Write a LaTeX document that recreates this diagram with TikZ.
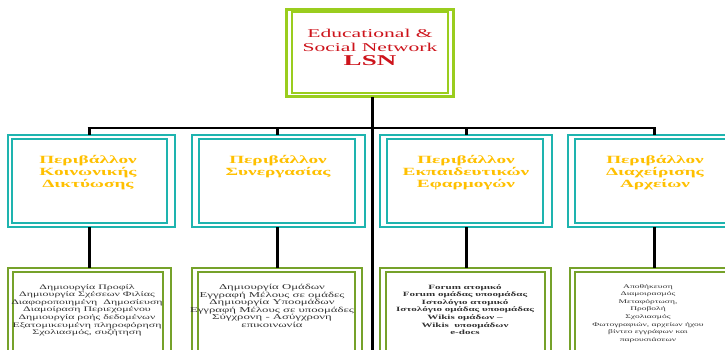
\documentclass[tikz,border=0pt]{standalone}
\usepackage{fontspec}
\setmainfont{Liberation Serif}
\newfontfamily\topfont[FakeStretch=1.8]{Liberation Serif}
\newfontfamily\midfont[FakeStretch=1.75]{Liberation Serif}
\newfontfamily\botfont[FakeStretch=1.7]{Liberation Serif}
\definecolor{limec}{RGB}{154,205,30}
\definecolor{tealc}{RGB}{30,180,175}
\definecolor{olivec}{RGB}{118,162,42}
\definecolor{goldc}{RGB}{255,192,0}
\definecolor{redc}{RGB}{205,20,28}
\definecolor{txtc}{RGB}{50,50,50}
\tikzset{
  boxbase/.style={draw, rectangle, inner sep=0pt, outer sep=0pt, anchor=north west},
  topout/.style={boxbase, draw=limec, line width=3pt},
  topin/.style={boxbase, draw=limec, line width=1.5pt},
  midout/.style={boxbase, draw=tealc, line width=1.8pt},
  midin/.style={boxbase, draw=tealc, line width=2.6pt},
  botout/.style={boxbase, draw=olivec, line width=2.5pt},
  botin/.style={boxbase, draw=olivec, line width=2.2pt},
  conn/.style={draw=black, line width=3pt},
  busline/.style={draw=black, line width=2.4pt},
  toptxt/.style={align=center, inner sep=0pt, text=redc, font=\topfont\fontsize{12}{14}\selectfont},
  midtxt/.style={align=center, inner sep=0pt, text=goldc, font=\midfont\bfseries\fontsize{11}{12}\selectfont},
  bottxt/.style={align=center, inner sep=0pt, text=txtc, anchor=north, font=\botfont\fontsize{7}{7.6}\selectfont},
}
\begin{document}
\begin{tikzpicture}[x=1pt,y=-1pt]
\useasboundingbox (0,0) rectangle (725,350);
\clip (0,0) rectangle (725,350);
% top box
\node[topout, minimum width=167pt, minimum height=87pt] (tO) at (286,10) {};
\node[topin, minimum width=156pt, minimum height=81pt] (tI) at (292,12) {};
\node[toptxt] (tT) at (370,47) {Educational \&\\Social Network\\{\fontsize{15}{17}\selectfont\bfseries LSN}};
% middle boxes
\node[midout, minimum width=167pt, minimum height=92pt] (m1O) at (8,135) {};
\node[midin, minimum width=155pt, minimum height=84pt] (m1I) at (12,139) {};
\node[midout, minimum width=173pt, minimum height=92pt] (m2O) at (192,135) {};
\node[midin, minimum width=156pt, minimum height=84pt] (m2I) at (199,139) {};
\node[midout, minimum width=172pt, minimum height=92pt] (m3O) at (380,135) {};
\node[midin, minimum width=156pt, minimum height=84pt] (m3I) at (387,139) {};
\node[midout, minimum width=177pt, minimum height=92pt] (m4O) at (568,135) {};
\node[midin, minimum width=165pt, minimum height=84pt] (m4I) at (575,139) {};
\node[midtxt] (m1T) at (88,173) {Περιβάλλον\\Κοινωνικής\\Δικτύωσης};
\node[midtxt] (m2T) at (278,167) {Περιβάλλον\\Συνεργασίας};
\node[midtxt] (m3T) at (466,173) {Περιβάλλον\\Εκπαιδευτικών\\Εφαρμογών};
\node[midtxt] (m4T) at (655,173) {Περιβάλλον\\Διαχείρισης\\Αρχείων};
% bottom boxes
\node[botout, minimum width=163pt, minimum height=100pt] (b1O) at (8,268) {};
\node[botin, minimum width=150pt, minimum height=100pt] (b1I) at (13,272) {};
\node[botout, minimum width=170pt, minimum height=100pt] (b2O) at (192,268) {};
\node[botin, minimum width=157pt, minimum height=100pt] (b2I) at (198,272) {};
\node[botout, minimum width=171pt, minimum height=100pt] (b3O) at (380,268) {};
\node[botin, minimum width=159pt, minimum height=100pt] (b3I) at (386,272) {};
\node[botout, minimum width=180pt, minimum height=100pt] (b4O) at (570,268) {};
\node[botin, minimum width=170pt, minimum height=100pt] (b4I) at (575,272) {};
\node[bottxt] (b1T) at (87,284) {Δημιουργία Προφίλ\\Δημιουργία Σχέσεων Φιλίας\\Διαφοροποιημένη\ \ Δημοσίευση\\Διαμοίραση Περιεχομένου\\Δημιουργία ροής δεδομένων\\Εξατομικευμένη πληροφόρηση\\Σχολιασμός, συζήτηση};
\node[bottxt, font=\botfont\fontsize{7.5}{7.6}\selectfont] (b2T) at (272,284) {Δημιουργία Ομάδων\\Εγγραφή Μέλους σε ομάδες\\Δημιουργία Υποομάδων\\Εγγραφή Μέλους σε υποομάδες\\Σύγχρονη - Ασύγχρονη\\επικοινωνία};
\node[bottxt, font=\botfont\bfseries\fontsize{6.5}{7.6}\selectfont] (b3T) at (465,284) {Forum ατομικό\\Forum ομάδας υποομάδας\\Ιστολόγιο ατομικό\\Ιστολόγιο ομάδας υποομάδας\\Wikis ομάδων –\\Wikis\ \ υποομάδων\\e-docs};
\node[bottxt, font=\botfont\fontsize{5.6}{7.6}\selectfont] (b4T) at (648,284) {Αποθήκευση\\Διαμοιρασμός\\Μεταφόρτωση,\\Προβολή\\Σχολιασμός\\Φωτογραφιών, αρχείων ήχου\\βίντεο εγγράφων και\\παρουσιάσεων};
% connectors
\coordinate (spine) at (372,350);
\coordinate (k1) at (89,128);
\coordinate (k2) at (277,128);
\coordinate (k3) at (466,128);
\coordinate (k4) at (654,128);
\draw[conn] (tO.south -| spine) -- (spine);
\draw[busline] ([xshift=-1.5pt]k1) -- ([xshift=1.5pt]k4);
\draw[conn] (k1) -- (k1 |- m1O.north);
\draw[conn] (k2) -- (k2 |- m2O.north);
\draw[conn] (k3) -- (k3 |- m3O.north);
\draw[conn] (k4) -- (k4 |- m4O.north);
\draw[conn] (k1 |- m1O.south) -- (k1 |- b1O.north);
\draw[conn] (k2 |- m2O.south) -- (k2 |- b2O.north);
\draw[conn] (k3 |- m3O.south) -- (k3 |- b3O.north);
\draw[conn] (k4 |- m4O.south) -- (k4 |- b4O.north);
\end{tikzpicture}
\end{document}
